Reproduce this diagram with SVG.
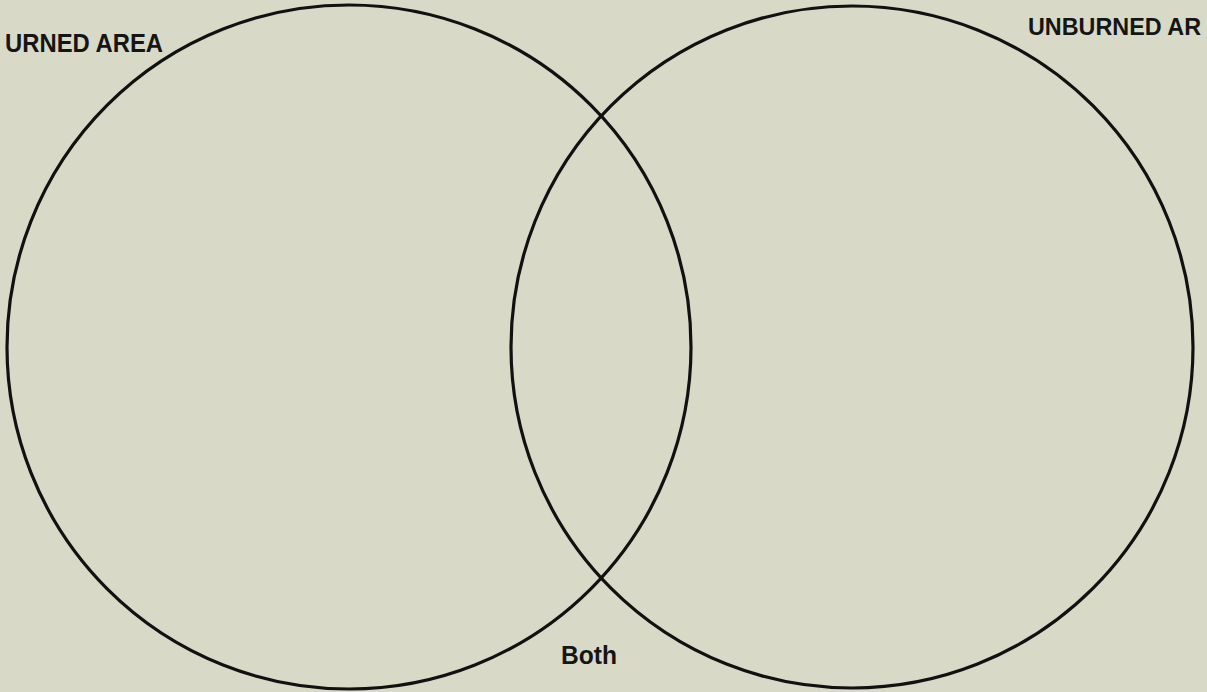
<svg xmlns="http://www.w3.org/2000/svg" width="1207" height="692" viewBox="0 0 1207 692">
  <style>
    .ring { fill: none; stroke: #111; stroke-width: 3.2; }
    .lbl { font-family: "Liberation Sans", Arial, sans-serif; font-weight: bold; font-size: 25px; fill: #151515; }
  </style>
  <rect x="0" y="0" width="1207" height="692" fill="#d8dac7"/>
  <g id="burned">
    <circle class="ring" cx="349" cy="347" r="342"/>
    <text class="lbl" x="5" y="52" textLength="158" lengthAdjust="spacingAndGlyphs">URNED AREA</text>
  </g>
  <g id="unburned">
    <circle class="ring" cx="852" cy="347" r="341"/>
    <text class="lbl" x="1028" y="35" style="font-size:23.5px" textLength="173" lengthAdjust="spacingAndGlyphs">UNBURNED AR</text>
  </g>
  <g id="both">
    <text class="lbl" x="561" y="664" textLength="56" lengthAdjust="spacingAndGlyphs">Both</text>
  </g>
  <g id="connectors"></g>
</svg>
